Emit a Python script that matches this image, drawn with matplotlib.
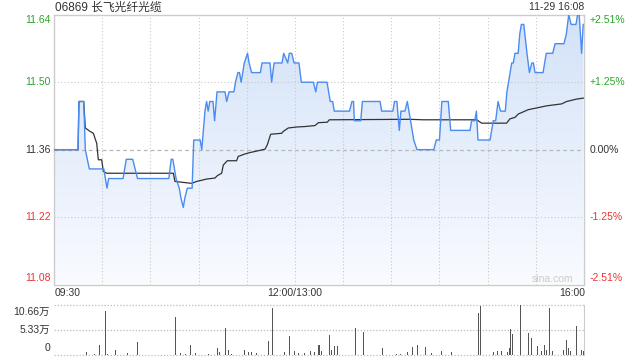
import numpy as np
import matplotlib
matplotlib.use('Agg')
import matplotlib.pyplot as plt
from matplotlib.patches import Polygon
from matplotlib.colors import LinearSegmentedColormap

plt.rcParams['font.family'] = ['Liberation Sans', 'Noto Sans CJK SC', 'DejaVu Sans']

# ── data ──────────────────────────────────────────────────────────────────
TITLE = '06869 长飞光纤光缆'
STAMP = '11-29 16:08'
PREV_CLOSE = 11.36

# minutes since 09:30 (lunch break removed, 330 = 16:00)
price_t = [0, 15, 15.5, 18.5, 19.5, 22, 31, 33, 34, 43, 45, 49, 52, 71.5, 73, 74,
           76, 78, 79, 80.5, 81.5, 83, 86, 87, 91, 92, 94, 95, 96, 97, 99, 100,
           101.5, 106.5, 107.5, 109, 112, 113, 114.5, 115.5, 116.5, 118.5, 120.5,
           121.5, 123, 128.5, 129.5, 134.5, 135.5, 137, 142, 143, 145.5, 146.5,
           148, 149.5, 152.5, 154, 161.5, 163, 164, 170, 172, 173.5, 174.5, 184,
           185.5, 186.5, 187, 191, 192, 203, 204, 211, 212, 213.5, 215, 216,
           218.5, 220, 221, 222, 224, 226, 236.5, 238, 240, 241.5, 245.5, 247,
           259, 260, 262, 263, 264, 271.5, 273.5, 275, 276.5, 278, 281, 282, 284,
           285, 286, 287, 289, 290, 291, 292.5, 294.5, 296, 297.5, 298.5, 299.5,
           304.5, 306.5, 310.5, 312, 317.5, 319, 320.5, 322, 325, 326, 327, 328.5,
           329.5]
price_v = [11.36, 11.36, 11.46, 11.46, 11.36, 11.32, 11.32, 11.28, 11.30, 11.30,
           11.34, 11.34, 11.30, 11.30, 11.34, 11.34, 11.30, 11.28, 11.26, 11.24,
           11.26, 11.28, 11.28, 11.38, 11.38, 11.36, 11.44, 11.46, 11.44, 11.46,
           11.46, 11.42, 11.48, 11.48, 11.46, 11.48, 11.48, 11.50, 11.52, 11.52,
           11.50, 11.54, 11.56, 11.54, 11.52, 11.52, 11.54, 11.54, 11.50, 11.54,
           11.54, 11.56, 11.54, 11.56, 11.56, 11.54, 11.54, 11.50, 11.50, 11.48,
           11.50, 11.50, 11.46, 11.46, 11.44, 11.44, 11.46, 11.46, 11.42, 11.42,
           11.46, 11.46, 11.44, 11.44, 11.46, 11.46, 11.40, 11.44, 11.44, 11.46,
           11.44, 11.42, 11.38, 11.36, 11.36, 11.38, 11.38, 11.46, 11.46, 11.40,
           11.40, 11.42, 11.42, 11.44, 11.38, 11.38, 11.42, 11.42, 11.46, 11.44,
           11.44, 11.48, 11.52, 11.54, 11.54, 11.56, 11.56, 11.60, 11.62, 11.62,
           11.56, 11.52, 11.54, 11.54, 11.52, 11.52, 11.56, 11.56, 11.58, 11.58,
           11.60, 11.64, 11.62, 11.62, 11.64, 11.64, 11.56, 11.62]

avg_t = [0, 15, 15.5, 18.5, 19.5, 22.4, 24.5, 26.6, 27.6, 29.7, 30.7, 32.8, 74.3,
         75.3, 85.7, 88.8, 95.1, 100.2, 101.7, 104.4, 105.4, 107.9, 113.7, 114.7,
         118.9, 122.0, 126.2, 131.4, 132.8, 134.9, 141.8, 142.8, 145.9, 151.1,
         156.3, 162.5, 164.6, 170.2, 171.4, 221.6, 229.9, 263.2, 266.3, 281.8,
         283.9, 287.0, 289.1, 295.3, 306.8, 316.1, 319.2, 325.4, 329.6]
avg_v = [11.36, 11.36, 11.46, 11.46, 11.405, 11.398, 11.394, 11.373, 11.339,
         11.339, 11.315, 11.311, 11.311, 11.294, 11.29, 11.294, 11.299, 11.301,
         11.306, 11.311, 11.328, 11.337, 11.337, 11.346, 11.351, 11.354, 11.357,
         11.361, 11.37, 11.392, 11.394, 11.398, 11.405, 11.407, 11.408, 11.41,
         11.416, 11.417, 11.422, 11.423, 11.422, 11.422, 11.415, 11.415, 11.424,
         11.427, 11.434, 11.443, 11.451, 11.455, 11.46, 11.465, 11.467]

# volume, unit: 万
vol_t = [20.3, 25.5, 28.2, 32.0, 33.4, 38.2, 41.1, 44.2, 45.9, 51.9, 75.5, 78.7,
         81.6, 84.7, 88.2, 90.9, 93.4, 96.1, 101.7, 102.9, 106.5, 108.5, 110.6,
         115.8, 118.5, 121.2, 123.1, 126.2, 129.5, 133.4, 135.9, 140.1, 143.4,
         146.5, 149.6, 152.1, 155.7, 159.6, 162.1, 164.6, 165.6, 166.7, 171.4,
         172.9, 174.5, 176.4, 187.6, 192.8, 204.6, 213.4, 216.0, 220.2, 223.1,
         226.2, 231.2, 235.1, 241.4, 247.6, 264.2, 265.8, 273.5, 276.2, 278.7,
         282.2, 283.5, 284.3, 285.3, 290.3, 295.3, 297.4, 301.2, 303.6, 305.5,
         306.5, 308.8, 310.3, 317.1, 319.0, 320.2, 321.7, 325.6, 328.5, 329.6]
vol_v = [0.7, 0.3, 2.2, 9.45, 0.3, 1.1, 0.3, 0.8, 0.4, 2.7, 8.15, 0.4, 0.3, 2.2,
         0.4, 0.6, 0.4, 0.3, 1.4, 0.6, 5.7, 1.15, 0.3, 1.6, 1.15, 0.6, 0.6, 0.4,
         0.4, 2.9, 10.1, 0.4, 0.6, 4.0, 0.9, 0.4, 0.4, 0.9, 0.6, 2.2, 2.2, 0.9,
         4.3, 1.15, 2.0, 2.0, 5.84, 4.9, 1.4, 0.3, 0.3, 0.6, 1.66, 2.2, 1.8, 0.4,
         0.9, 0.6, 8.87, 10.45, 0.6, 0.9, 0.9, 0.6, 1.4, 5.55, 4.54, 10.66, 4.6,
         3.6, 2.0, 0.9, 2.2, 1.15, 10.1, 0.9, 1.15, 3.1, 1.4, 0.9, 6.1, 1.15, 0.9]

price_ticks = [11.64, 11.50, 11.36, 11.22, 11.08]
pct_labels = ['+2.51%', '+1.25%', '0.00%', '-1.25%', '-2.51%']
vol_ticks = [10.66, 5.33, 0]
vol_labels = ['10.66万', '5.33万', '0']

GREEN = '#2aa52a'
RED = '#ee3333'
DARK = '#333333'
GRID = '#c8c8c8'

# ── figure ────────────────────────────────────────────────────────────────
W, H = 640, 360
fig = plt.figure(figsize=(W / 100, H / 100), dpi=100, facecolor='white')

def fx(px):
    return px / W

def fy(py):
    return 1 - py / H

ax = fig.add_axes([fx(54), fy(284.5), fx(530), 269.7 / H])
ax_v = fig.add_axes([fx(54), fy(355), fx(530), 50 / H])

ymin, ymax = price_ticks[-1], price_ticks[0]
ax.set_xlim(0, 330)
ax.set_ylim(ymin, ymax)

# gradient fill under the price line
cmap = LinearSegmentedColormap.from_list('fill', ['#f9fbff', '#d3e2f8'])
grad = np.linspace(0, 1, 256).reshape(-1, 1)
im = ax.imshow(grad, extent=[0, 330, ymin, ymax], origin='lower', aspect='auto',
               cmap=cmap, zorder=1)
verts = np.column_stack([price_t + [price_t[-1], price_t[0]],
                         price_v + [ymin, ymin]])
clip = Polygon(verts, closed=True, facecolor='none', edgecolor='none',
               transform=ax.transData)
ax.add_patch(clip)
im.set_clip_path(clip)

# grid
for x in range(30, 330, 30):
    ax.axvline(x, color=GRID, lw=0.8, ls=(0, (1, 2)), zorder=2)
for y in price_ticks[1:-1]:
    if y == PREV_CLOSE:
        ax.axhline(y, color='#b8b8b8', lw=0.9, ls=(0, (3, 2.5)), zorder=2)
    else:
        ax.axhline(y, color=GRID, lw=0.8, ls=(0, (1, 2)), zorder=2)

ax.plot(price_t, price_v, color='#4a8cf0', lw=1.0, zorder=4)
ax.plot(avg_t, avg_v, color='#333333', lw=0.9, zorder=3)

ax.set_xticks([])
ax.set_yticks([])
for s in ax.spines.values():
    s.set_color('#cccccc')
    s.set_linewidth(1.0)

# price / percent labels
label_py = [20, 82.3, 149.7, 217, 278.3]
for val, pct, py in zip(price_ticks, pct_labels, label_py):
    c = GREEN if val > PREV_CLOSE else (RED if val < PREV_CLOSE else DARK)
    fig.text(fx(51), fy(py), f'{val:.2f}', ha='right', va='center',
             fontsize=7.5, color=c)
    fig.text(fx(590), fy(py), pct, ha='left', va='center', fontsize=7.5, color=c)

fig.text(fx(55), fy(7.5), TITLE, ha='left', va='center', fontsize=8.5, color=DARK)
fig.text(fx(584), fy(7.5), STAMP, ha='right', va='center', fontsize=7.5, color=DARK)

fig.text(fx(55), fy(292.7), '09:30', ha='left', va='center', fontsize=7.5, color=DARK)
fig.text(fx(295), fy(292.7), '12:00/13:00', ha='center', va='center',
         fontsize=7.5, color=DARK)
fig.text(fx(585), fy(292.7), '16:00', ha='right', va='center', fontsize=7.5,
         color=DARK)
fig.text(fx(552), fy(279), 'sina.com', ha='center', va='center', fontsize=7.5,
         color='#cccccc')

# ── volume ────────────────────────────────────────────────────────────────
ax_v.set_xlim(0, 330)
ax_v.set_ylim(0, vol_ticks[0])
ax_v.bar(vol_t, vol_v, width=0.6, color='#555555', lw=0, zorder=3)
for y in vol_ticks:
    ax_v.axhline(y, color='#bbbbbb', lw=0.9, ls=(0, (1, 1.5)), zorder=2,
                 clip_on=False)
ax_v.set_xticks([])
ax_v.set_yticks([])
for k in ('left', 'top', 'bottom'):
    ax_v.spines[k].set_visible(False)
ax_v.spines['right'].set_color('#cccccc')

vol_py = [311.7, 330, 347.7]
for lab, py in zip(vol_labels, vol_py):
    fig.text(fx(50), fy(py), lab, ha='right', va='center', fontsize=7.5, color=DARK)

fig.savefig('out.png', dpi=100, facecolor='white')
